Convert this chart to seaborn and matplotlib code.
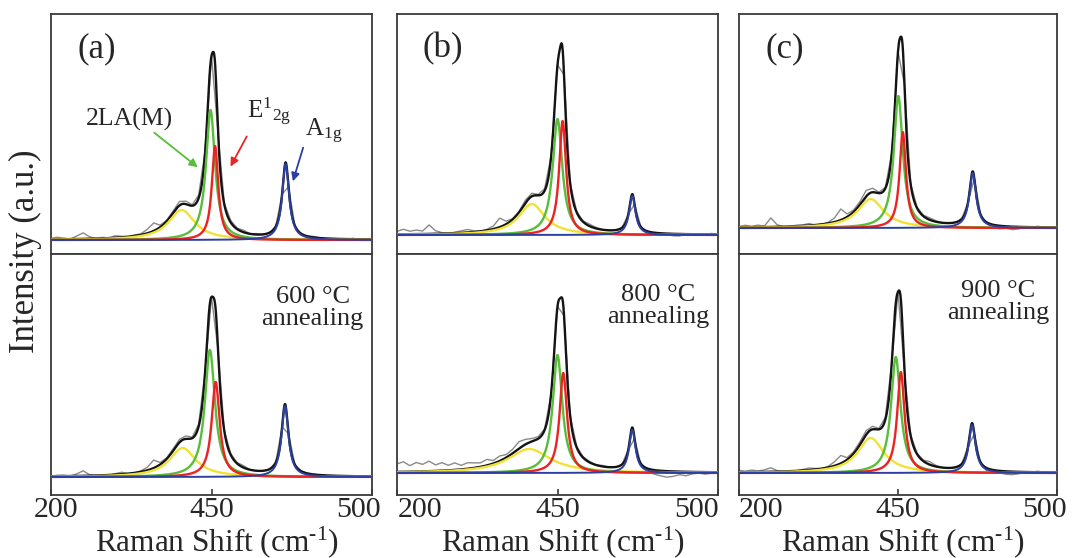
import numpy as np
import pandas as pd
import matplotlib
matplotlib.use("Agg")
import matplotlib.pyplot as plt
from matplotlib.transforms import ScaledTranslation
import seaborn as sns

sns.set_theme(style="white")
plt.rcParams["font.family"] = ["Liberation Serif", "DejaVu Serif"]
plt.rcParams["mathtext.fontset"] = "custom"
plt.rcParams["mathtext.rm"] = "Liberation Serif"
plt.rcParams["mathtext.it"] = "Liberation Serif:italic"
plt.rcParams["mathtext.bf"] = "Liberation Serif:bold"

# ---------------- data ----------------
panel_letters = ["(a)", "(b)", "(c)"]
temperatures = ["600 \u00b0C", "800 \u00b0C", "900 \u00b0C"]
tick_values = [400, 450, 500]
tick_labels = ["200", "450", "500"]
peak_labels = ["2LA(M)", r"E$^{\mathregular{1}}{}_{\mathregular{2g}}$", r"A$_{\mathregular{1g}}$"]
x_title = "Raman Shift (cm$^{\\mathregular{\u2010}1}$)"
y_title = "Intensity (a.u.)"

# panel order: a-top, a-bottom, b-top, b-bottom, c-top, c-bottom
yellow_center = [440.7, 441.0, 442.0, 441.2, 441.4, 441.4]
yellow_height = [30, 29, 31, 24, 29, 35]
yellow_hwhm = [5.0, 5.0, 5.0, 8.0, 5.0, 5.0]
green_center = [449.7, 449.5, 450.0, 450.0, 450.1, 449.3]
green_height = [130, 127, 116, 118, 132, 116]
green_hwhm = [1.7, 1.9, 1.8, 1.8, 1.7, 1.8]
red_center = [451.1, 451.3, 451.6, 451.8, 451.5, 450.9]
red_height = [94, 95, 114, 100, 96, 101]
red_hwhm = [1.2, 1.5, 1.3, 1.4, 1.2, 1.4]
blue_center = [473.1, 472.9, 473.3, 473.3, 473.5, 473.3]
blue_height = [76, 71, 39, 43, 55, 48]
blue_hwhm = [1.3, 1.3, 1.2, 1.2, 1.3, 1.3]

raw_shift = list(range(400, 501, 2))
residual_a_top = [1, 2, 1, 0, 3, 6, 2, 0, 1, 0, 2, 1, 0, 1, 1, 4, 8, 2, 1, 2, 4, 3, 1, 3, 2, 0,
                  -3, 1, 2, 1, 2, 0, 1, 0, 0, 0, 0, 0, 0, -1, 0, 1, 0, -1, -1, 0, -1, 1, -1, 0, 1]
residual_a_bot = [0, 1, 1, 0, 2, 5, 1, 0, 0, 0, 1, 2, 0, 0, 1, 3, 8, 2, 1, 2, 3, 3, 1, 2, 1, 0,
                  -2, 1, 1, 1, 2, 0, 0, 0, 0, 0, 0, 0, 0, 0, 0, -1, 0, -1, -1, 0, -1, -1, 0, -1, 0]
residual_b_top = [3, 5, 3, 4, 3, 9, 3, 1, 0, 1, 2, 3, 1, 0, 1, 3, 9, 3, 1, 1, 3, 3, 1, 2, 1, 0,
                  -2, 1, 1, 1, 2, 1, 0, 0, 0, 0, 0, 0, 0, -2, -2, -2, -1, -2, -2, 0, 0, -1, 0, 1, 0]
residual_b_bot = [8, 10, 6, 9, 7, 10, 6, 8, 5, 7, 4, 6, 5, 4, 6, 3, 5, 3, 4, 7, 5, 3, 2, 1, 0, 0,
                  -2, 1, 1, 1, 1, 0, 1, 0, 0, 0, 0, 0, -1, -3, -4, -5, -6, -5, -3, -4, -2, -1, -2, -1, 0]
residual_c_top = [1, 2, 1, 2, 1, 9, 2, 0, 0, 1, 1, 2, 0, 0, 1, 4, 11, 3, 2, 3, 6, 4, 1, 1, 1, 0,
                  -2, 1, 1, 1, 2, 1, 0, 0, 0, 0, 0, 0, 0, -1, -3, -3, -2, -3, -2, 0, 0, 1, 0, 0, 1]
residual_c_bot = [2, 1, 2, 1, 2, 4, 1, 0, 0, 0, 1, 2, 1, 0, 1, 4, 8, 2, 2, 3, 4, 3, 1, 2, 1, 0,
                  -2, 1, 1, 1, 3, 1, 0, 0, 0, 0, 0, 0, -1, -3, -3, -2, -3, -3, -2, 0, 0, 1, 0, 0, 0]
residuals = [residual_a_top, residual_a_bot, residual_b_top, residual_b_bot,
             residual_c_top, residual_c_bot]

# ---------------- style / layout ----------------
C_GRAY = "#8a8a8a"
C_BLACK = "#141414"
C_YELLOW = "#f0e236"
C_GREEN = "#58bd3a"
C_RED = "#ec2323"
C_BLUE = "#2c40a2"
SPINE = "#3a3a3a"

W, H = 1072, 558
fig = plt.figure(figsize=(W / 100, H / 100), dpi=100)

col_left = [51, 397, 739]
col_width = [321, 321, 318]
y_top, y_mid, y_bot = 14, 254, 495
ylims = [(-14, 226), (-18, 223), (-19, 221), (-22, 219), (-26, 214), (-22, 219)]
ticklabel_shift_px = [[5, 0, -13], [23, 0, -22], [22, 0, -13]]
annot_y = [0.778, 0.786, 0.80]

x_fit = np.linspace(400, 500, 1201)


def lorentz(x, c, h, w):
    return h / (1.0 + ((x - c) / w) ** 2)


axes = []
for col in range(3):
    for row in range(2):
        idx = col * 2 + row
        if row == 0:
            rect = [col_left[col] / W, 1 - y_mid / H, col_width[col] / W, (y_mid - y_top) / H]
        else:
            rect = [col_left[col] / W, 1 - y_bot / H, col_width[col] / W, (y_bot - y_mid) / H]
        ax = fig.add_axes(rect)
        axes.append(ax)

        comps = [
            (yellow_center[idx], yellow_height[idx], yellow_hwhm[idx], C_YELLOW),
            (green_center[idx], green_height[idx], green_hwhm[idx], C_GREEN),
            (red_center[idx], red_height[idx], red_hwhm[idx], C_RED),
            (blue_center[idx], blue_height[idx], blue_hwhm[idx], C_BLUE),
        ]
        fit_total = sum(lorentz(x_fit, c, h, w) for c, h, w, _ in comps)
        xr = np.array(raw_shift, dtype=float)
        raw_total = sum(lorentz(xr, c, h, w) for c, h, w, _ in comps) + np.array(residuals[idx])

        sns.lineplot(x=xr, y=raw_total, ax=ax, color=C_GRAY, lw=1.0, zorder=1)
        sns.lineplot(x=x_fit, y=fit_total, ax=ax, color=C_BLACK, lw=1.7, zorder=2)
        for k, (c, h, w, colr) in enumerate(comps):
            sns.lineplot(x=x_fit, y=lorentz(x_fit, c, h, w), ax=ax, color=colr,
                         lw=1.7 if k < 3 else 1.4, zorder=3 + k)

        ax.set_xlim(400, 500)
        ax.set_ylim(*ylims[idx])
        ax.set_yticks([])
        ax.set_xticks(tick_values)
        ax.set_ylabel("")
        for sp in ax.spines.values():
            sp.set_color(SPINE)
            sp.set_linewidth(1.3)
        if row == 0:
            ax.tick_params(axis="x", length=0, labelbottom=False)
            ax.set_xlabel("")
            ax.text(0.143, 0.855, panel_letters[col], transform=ax.transAxes,
                    fontsize=25, ha="center", va="center")
        else:
            ax.set_xticklabels(tick_labels)
            ax.tick_params(axis="x", direction="in", length=4, width=1.2, color=SPINE,
                           labelsize=21.5, pad=1.5, bottom=True)
            for lab, dx in zip(ax.get_xticklabels(), ticklabel_shift_px[col]):
                lab.set_transform(lab.get_transform() +
                                  ScaledTranslation(dx / 100, 0, fig.dpi_scale_trans))
            ax.set_xlabel(x_title, fontsize=22.5)
            ax.xaxis.set_label_coords(0.516, -0.232)
            ax.xaxis.label.set_va("baseline")
            ax.text(0.815, annot_y[col], temperatures[col] + "\nannealing",
                    transform=ax.transAxes, fontsize=19, ha="center", va="center",
                    linespacing=1.0)

# peak labels and arrows in panel (a) top
ax = axes[0]
ax.text(424.3, 114, peak_labels[0], fontsize=18.5, ha="center", va="baseline")
ax.text(461.1, 122, peak_labels[1], fontsize=18, ha="left", va="baseline")
ax.text(479.1, 104, peak_labels[2], fontsize=18, ha="left", va="baseline")
ax.annotate("", xy=(446.4, 71), xytext=(431.5, 109),
            arrowprops=dict(arrowstyle="-|>", color=C_GREEN, lw=1.3, mutation_scale=12))
ax.annotate("", xy=(455.5, 71), xytext=(461.4, 106),
            arrowprops=dict(arrowstyle="-|>", color=C_RED, lw=1.3, mutation_scale=12))
ax.annotate("", xy=(475.1, 56), xytext=(478.8, 95),
            arrowprops=dict(arrowstyle="-|>", color=C_BLUE, lw=1.3, mutation_scale=12))

fig.text(25 / W, 1 - 251 / H, y_title, rotation=90, fontsize=25,
         ha="center", va="center")

fig.savefig("out.png", dpi=100)
